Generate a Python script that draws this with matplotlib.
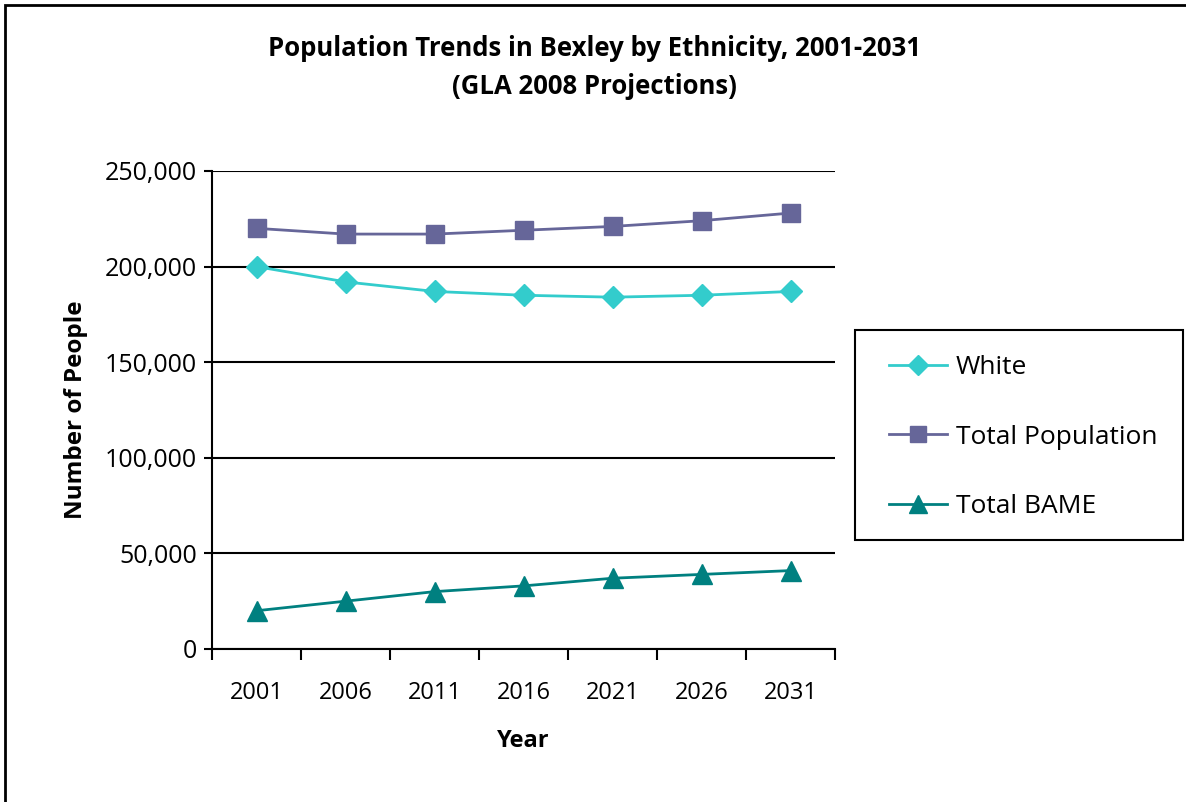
import matplotlib
matplotlib.use("Agg")
import matplotlib.pyplot as plt
from matplotlib.patches import Rectangle
from matplotlib.ticker import FuncFormatter, FixedLocator

plt.rcParams['font.family'] = ['Open Sans', 'DejaVu Sans']

years = ['2001', '2006', '2011', '2016', '2021', '2026', '2031']
white = [200000, 192000, 187000, 185000, 184000, 185000, 187000]
total_population = [220000, 217000, 217000, 219000, 221000, 224000, 228000]
total_bame = [20000, 25000, 30000, 33000, 37000, 39000, 41000]

fig = plt.figure(figsize=(11.86, 8.02), dpi=100)
# outer chart frame (right and bottom edges fall outside the canvas)
fig.patches.append(Rectangle((0.0045, -0.05), 1.2, 1.044, transform=fig.transFigure,
                             fill=False, edgecolor='black', linewidth=2))

ax = fig.add_axes([0.1788, 0.1908, 0.5253, 0.596])
x = list(range(len(years)))

ax.plot(x, white, color='#33CCCC', marker='D', markersize=11, linewidth=2,
        label='White', clip_on=False, zorder=4)
ax.plot(x, total_population, color='#666699', marker='s', markersize=13, linewidth=2,
        label='Total Population', clip_on=False, zorder=4)
ax.plot(x, total_bame, color='#008080', marker='^', markersize=14, linewidth=2,
        label='Total BAME', clip_on=False, zorder=4)

ax.set_xlim(-0.5, len(years) - 0.5)
ax.set_ylim(0, 250000)
ax.set_yticks(range(0, 250001, 50000))
ax.yaxis.set_major_formatter(FuncFormatter(lambda v, p: f'{int(v):,}'))
ax.yaxis.grid(True, color='black', linewidth=1.5)
ax.set_axisbelow(True)

ax.set_xticks(x)
ax.set_xticklabels(years)
ax.xaxis.set_minor_locator(FixedLocator([i - 0.5 for i in range(len(years) + 1)]))
ax.tick_params(axis='x', which='major', length=0, pad=23, labelsize=17)
ax.tick_params(axis='x', which='minor', length=8, width=1.5, direction='out')
ax.tick_params(axis='y', length=6, width=1.5, labelsize=18, pad=5)

for side in ['top', 'right']:
    ax.spines[side].set_visible(False)
for side in ['left', 'bottom']:
    ax.spines[side].set_linewidth(1.5)

ax.set_xlabel('Year', fontsize=17, fontweight='bold', labelpad=17)
ax.set_ylabel('Number of People', fontsize=17.5, fontweight='bold', labelpad=12)

fig.text(0.501, 0.939, 'Population Trends in Bexley by Ethnicity, 2001-2031',
         ha='center', va='center', fontsize=18.5, fontweight='bold')
fig.text(0.501, 0.8925, '(GLA 2008 Projections)',
         ha='center', va='center', fontsize=18.5, fontweight='bold')

# legend box
fig.patches.append(Rectangle((0.7209, 0.3267), 0.2766, 0.2618, transform=fig.transFigure,
                             fill=True, facecolor='white', edgecolor='black', linewidth=1.5))
handles, labels = ax.get_legend_handles_labels()
leg = fig.legend(handles, labels, loc='center left', bbox_to_anchor=(0.7496, 0.455),
                 frameon=False, fontsize=19, labelspacing=1.68, handlelength=2.2,
                 handletextpad=0.32, borderaxespad=0, borderpad=0, markerscale=0.9)

fig.savefig('out.png', dpi=100, facecolor='white')
